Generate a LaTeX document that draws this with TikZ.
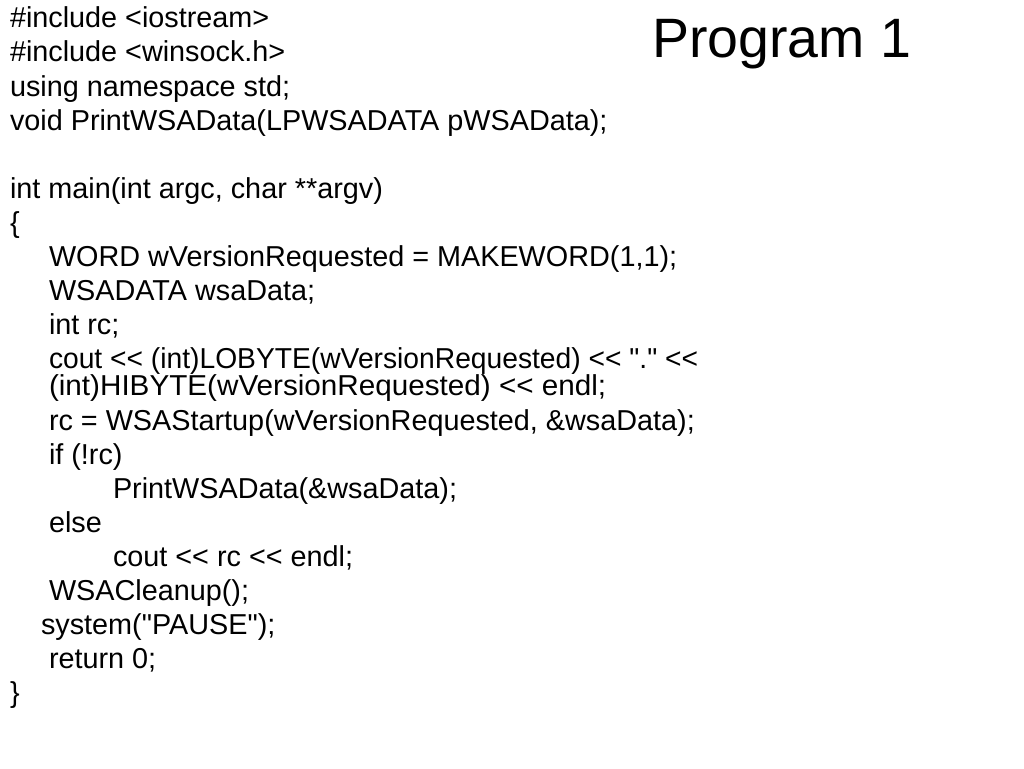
\documentclass[tikz,border=0pt]{standalone}
\usepackage{fontspec}
\newfontfamily\codefont{Liberation Sans}
\usetikzlibrary{positioning}

\begin{document}
\begin{tikzpicture}[x=1pt, y=-1pt, every node/.style={inner sep=0pt, outer sep=0pt, anchor=base west},
                        code/.style={font=\codefont\fontsize{28.8}{30}\selectfont},
                        title/.style={font=\codefont\fontsize{55.5}{60}\selectfont}]

        \useasboundingbox[fill=white] (0,0) rectangle (1024,768);

        \node[title] (title) at (652,57) {Program 1};

        \node[code] (inc1) at (10,28) {\#include <iostream>};
        \node[code] (inc2) at (10,62) {\#include <winsock.h>};
        \node[code] (using) at (10,96) {using namespace std;};
        \node[code] (proto) at (10,130) {void PrintWSAData(LPWSADATA pWSAData);};
        \node[code] (main) at (10,198) {int main(int argc, char **argv)};
        \node[code] (open) at (10,232) {\{};
        \node[code] (word) at (49,266) {WORD wVersionRequested = MAKEWORD(1,1);};
        \node[code] (wsa) at (49,300) {WSADATA wsaData;};
        \node[code] (rc) at (49,334) {int rc;};
        \node[code] (cout1) at (49,368) {\scalebox{0.98}[1]{cout << (int)LOBYTE(wVersionRequested) << "." <<}};
        \node[code] (cout2) at (49,395) {\scalebox{1.03}[1]{(int)HIBYTE(wVersionRequested) << endl;}};
        \node[code] (start) at (49,430) {rc = WSAStartup(wVersionRequested, \&wsaData);};
        \node[code] (if) at (49,464) {if (!rc)};
        \node[code] (print) at (113,498) {PrintWSAData(\&wsaData);};
        \node[code] (else) at (49,532) {else};
        \node[code] (cout3) at (113,566) {cout << rc << endl;};
        \node[code] (clean) at (49,600) {WSACleanup();};
        \node[code] (pause) at (41,634) {system("PAUSE");};
        \node[code] (ret) at (49,668) {return 0;};
        \node[code] (close) at (10,702) {\}};
    \end{tikzpicture}
\end{document}
